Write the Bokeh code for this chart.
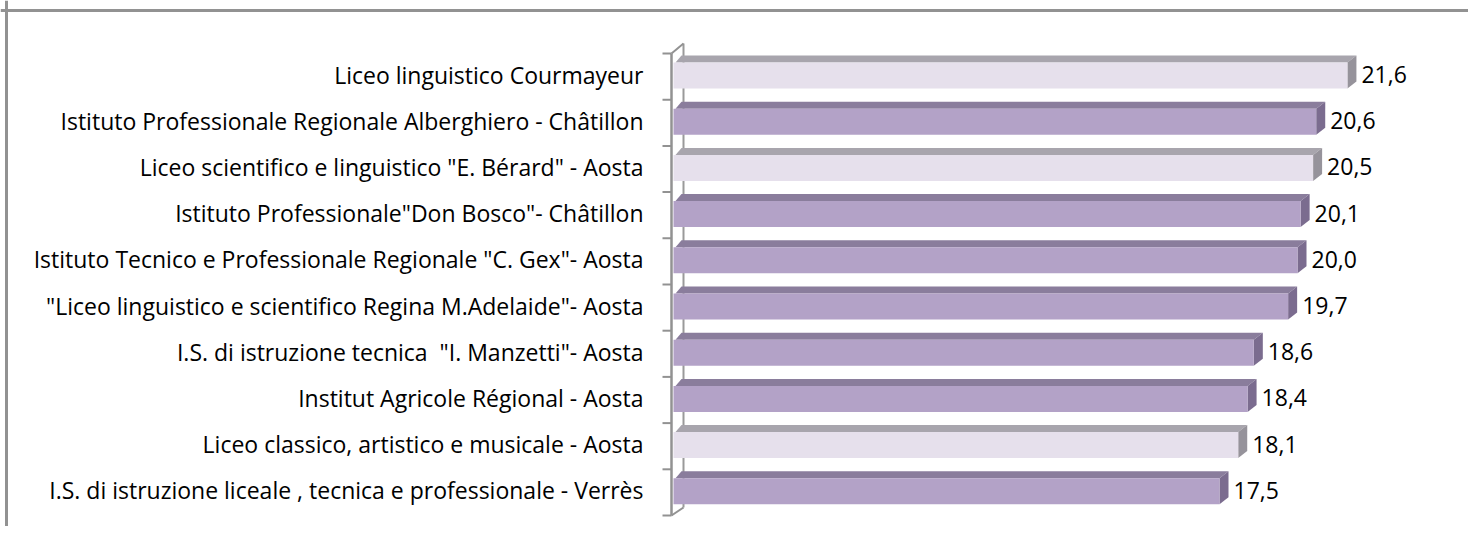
from bokeh.plotting import figure
from bokeh.models import Range1d, Span
from bokeh.core.properties import value
from bokeh.embed import file_html
from bokeh.resources import INLINE

schools = [
    "Liceo linguistico Courmayeur",
    "Istituto Professionale Regionale Alberghiero - Châtillon",
    "Liceo scientifico e linguistico \"E. Bérard\" - Aosta",
    "Istituto Professionale\"Don Bosco\"- Châtillon",
    "Istituto Tecnico e Professionale Regionale \"C. Gex\"- Aosta",
    "\"Liceo linguistico e scientifico Regina M.Adelaide\"- Aosta",
    "I.S. di istruzione tecnica\u00a0 \"I. Manzetti\"- Aosta",
    "Institut Agricole Régional - Aosta",
    "Liceo classico, artistico e musicale - Aosta",
    "I.S. di istruzione liceale , tecnica e professionale - Verrès",
]
values = [21.6, 20.6, 20.5, 20.1, 20.0, 19.7, 18.6, 18.4, 18.1, 17.5]
light = [True, False, True, False, False, False, False, False, True, False]

W, H = 1468, 526
PX_X = 31.2      # px per unit
PX_Y = 46.2      # px per row
X0 = 673         # x pixel of value 0
Y0 = 53          # y pixel of first row boundary

xr = Range1d(-X0 / PX_X, (W - X0) / PX_X)
yr = Range1d((H - Y0) / PX_Y, -Y0 / PX_Y)

p = figure(width=W, height=H, x_range=xr, y_range=yr, output_backend="svg",
           toolbar_location=None, min_border=0)
p.axis.visible = False
p.grid.visible = False
p.outline_line_color = None
p.background_fill_color = "white"
p.border_fill_color = "white"


def px(v):
    return v / PX_X


def py(v):
    return v / PX_Y


n = len(schools)
gray = "#929292"

dx, dy = px(9), py(7)
ax_x = px(-2)
back_x = px(10)

# back wall edge + depth lines
p.segment(x0=[back_x], y0=[-py(10)], x1=[back_x], y1=[n - py(8)], line_color="#9a9a9a", line_width=2)
p.segment(x0=[ax_x, ax_x], y0=[0, n], x1=[back_x, back_x], y1=[-py(10), n - py(8)],
          line_color=gray, line_width=2)

# bars (front, top, side faces)
fc, tc, sc = [], [], []
front_x, front_y, top_x, top_y, side_x, side_y = [], [], [], [], [], []
for i, (v, lt) in enumerate(zip(values, light)):
    c = i + py(22)
    h = py(13)
    ft, fb = c - h, c + h
    front_x.append([0, v, v, 0]); front_y.append([ft, ft, fb, fb])
    top_x.append([px(2), v, v + dx, px(8)]); top_y.append([ft, ft, ft - dy, ft - dy])
    side_x.append([v, v + dx, v + dx, v]); side_y.append([ft, ft - dy, fb - dy, fb])
    if lt:
        fc.append("#e6e0ec"); tc.append("#a8a5ad"); sc.append("#96939b")
    else:
        fc.append("#b3a2c7"); tc.append("#8a7d9c"); sc.append("#7b6c8f")

p.patches(top_x, top_y, fill_color=tc, line_color=None)
p.patches(side_x, side_y, fill_color=sc, line_color=None)
p.patches(front_x, front_y, fill_color=fc, line_color=None)

# axis line and ticks
p.segment(x0=[ax_x], y0=[0], x1=[ax_x], y1=[n], line_color=gray, line_width=2.5)
p.segment(x0=[px(-11)] * (n + 1), y0=list(range(n + 1)), x1=[ax_x] * (n + 1), y1=list(range(n + 1)),
          line_color=gray, line_width=2)

# category labels
centers = [i + py(21) for i in range(n)]
p.text(x=[px(-30)] * n, y=centers, text=schools, text_align="right", text_baseline="middle",
       text_font=value("Open Sans"), text_font_size="23px", text_color="black")

# value labels
lbl = [f"{v:.1f}".replace(".", ",") for v in values]
p.text(x=[v + dx + px(5) for v in values], y=centers, text=lbl, text_align="left",
       text_baseline="middle", text_font=value("Open Sans"), text_font_size="23px", text_color="black")

# chart border (left and top)
p.add_layout(Span(location=xr.start + px(6), dimension="height", line_color=gray, line_width=3))
p.add_layout(Span(location=yr.end + py(10), dimension="width", line_color=gray, line_width=3))

open("out.html", "w").write(file_html(p, INLINE))
